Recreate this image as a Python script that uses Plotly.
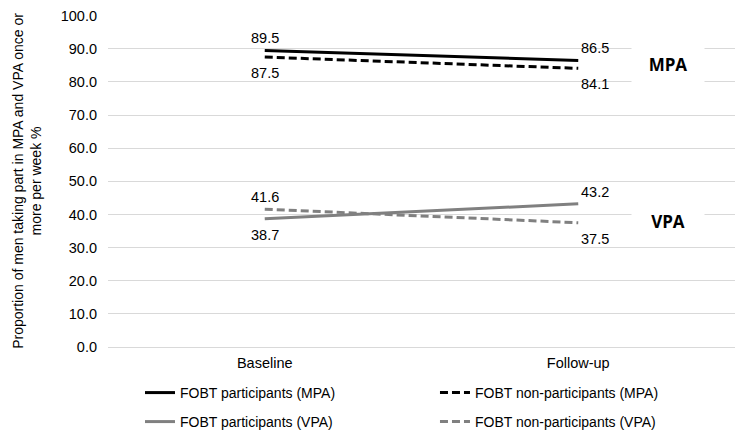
import plotly.graph_objects as go

# time points and series values (% of men doing activity once or more per week)
periods = ["Baseline", "Follow-up"]
mpa_part = [89.5, 86.5]
mpa_nonpart = [87.5, 84.1]
vpa_part = [38.7, 43.2]
vpa_nonpart = [41.6, 37.5]

names = ["FOBT participants (MPA)", "FOBT non-participants (MPA)",
         "FOBT participants (VPA)", "FOBT non-participants (VPA)"]
values = [mpa_part, mpa_nonpart, vpa_part, vpa_nonpart]
colors = ["#000000", "#000000", "#808080", "#808080"]
dashes = ["solid", "8px,4px", "solid", "8px,4px"]
# label above (+1) or below (-1) the line, for each point
label_side = [[1, 1], [-1, -1], [-1, 1], [1, -1]]
legends = ["legend", "legend", "legend2", "legend2"]

FONT = "Liberation Sans, Arial, sans-serif"

fig = go.Figure()
for name, vals, col, dash, lg in zip(names, values, colors, dashes, legends):
    fig.add_trace(go.Scatter(
        x=periods, y=vals, name=name, mode="lines",
        line=dict(color=col, width=3, dash=dash), legend=lg,
    ))

# value labels
for vals, sides in zip(values, label_side):
    for i, (p, v, s) in enumerate(zip(periods, vals, sides)):
        fig.add_annotation(
            x=p, y=v, text=f"{v:.1f}", showarrow=False,
            xshift=0 if i == 0 else 17, yshift=12 if s > 0 else -16,
            font=dict(size=14.5, color="#000000", family=FONT),
        )

# group labels with white boxes over the gridlines
for label, yv, h in [("MPA", 85.3, 38), ("VPA", 38.0, 30)]:
    fig.add_annotation(
        text=f"<b>{label}</b>", x=0.893, xref="paper", xanchor="center",
        y=yv, yref="y", yanchor="middle", showarrow=False,
        font=dict(size=17, color="#000000", family="Open Sans, sans-serif"),
        bgcolor="#ffffff", width=70, height=h,
    )

# page has an 8px body margin, so the figure is a bit smaller than the window
fig.update_layout(
    width=735, height=429,
    margin=dict(l=100, r=8, t=7, b=90, autoexpand=False),
    plot_bgcolor="#ffffff", paper_bgcolor="#ffffff",
    font=dict(family=FONT, size=14.5, color="#000000"),
    showlegend=True,
    legend=dict(orientation="h", x=0.051, y=0.1026, yref="container",
                xanchor="left", yanchor="middle",
                entrywidth=250, entrywidthmode="pixels", font=dict(size=14)),
    legend2=dict(orientation="h", x=0.051, y=0.035, yref="container",
                 xanchor="left", yanchor="middle",
                 entrywidth=250, entrywidthmode="pixels", font=dict(size=14)),
)
fig.update_xaxes(range=[-0.5, 1.5], showgrid=False, showline=False, ticks="",
                 ticklabelstandoff=5, tickfont=dict(size=14.5), automargin=False)
fig.update_yaxes(range=[0, 100.2], tickvals=[i * 10 for i in range(11)], tickformat=".1f",
                 showgrid=True, gridcolor="#d9d9d9", gridwidth=1,
                 zeroline=True, zerolinecolor="#d9d9d9", zerolinewidth=1,
                 showline=False, ticks="", ticklabelstandoff=10, tickfont=dict(size=14.5),
                 automargin=False, ticklabeloverflow="allow",
                 title=dict(text="Proportion of men taking part in MPA and VPA once or<br>more per week %",
                            font=dict(size=14), standoff=15))

fig.write_html("out.html")
